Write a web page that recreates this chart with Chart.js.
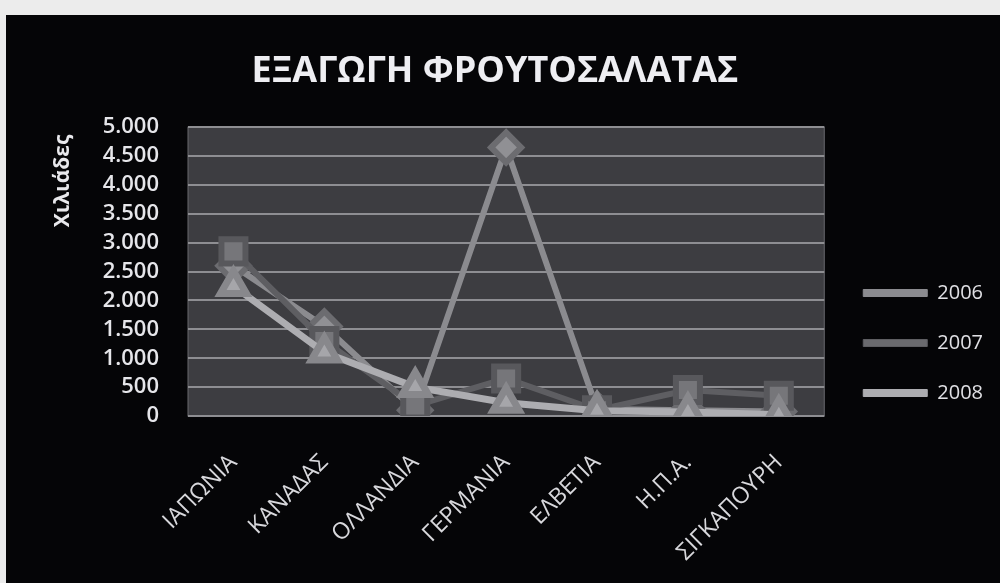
<!DOCTYPE html>
<html>
<head>
<meta charset="utf-8">
<script src="https://cdn.jsdelivr.net/npm/chart.js@4.4.1/dist/chart.umd.min.js"></script>
<style>
  html, body { margin: 0; padding: 0; background: #ececec; }
  #frame { position: absolute; left: 6px; top: 15px; width: 994px; height: 568px; background: #050507; }
</style>
</head>
<body>
<div id="frame"><canvas id="mychart" width="994" height="568"></canvas></div>
<script>
const categories = ["ΙΑΠΩΝΙΑ", "ΚΑΝΑΔΑΣ", "ΟΛΛΑΝΔΙΑ", "ΓΕΡΜΑΝΙΑ", "ΕΛΒΕΤΙΑ", "Η.Π.Α.", "ΣΙΓΚΑΠΟΥΡΗ"];
const exports2006 = [2600, 1550, 100, 4650, 120, 100, 80];
const exports2007 = [2850, 1300, 180, 650, 100, 450, 350];
const exports2008 = [2250, 1100, 500, 230, 90, 70, 20];
const yTickLabels = ["0", "500", "1.000", "1.500", "2.000", "2.500", "3.000", "3.500", "4.000", "4.500", "5.000"];

const ctx = document.getElementById("mychart").getContext("2d");

// grey plot area + y title placed near the top like the original
const plotBackground = {
  id: "plotBackground",
  beforeDraw(chart) {
    const { ctx, chartArea: a } = chart;
    ctx.save();
    ctx.fillStyle = "#3d3d41";
    ctx.fillRect(a.left, a.top, a.width, a.height);
    ctx.strokeStyle = "#6a6a6e";
    ctx.lineWidth = 1;
    ctx.strokeRect(a.left, a.top, a.width, a.height);
    ctx.restore();
  },
  afterDraw(chart) {
    const ctx = chart.ctx;
    ctx.save();
    ctx.translate(57, 166);
    ctx.rotate(-Math.PI / 2);
    ctx.fillStyle = "#e8e8ec";
    ctx.font = "bold 21px 'Open Sans'";
    ctx.textAlign = "center";
    ctx.textBaseline = "middle";
    ctx.fillText("Χιλιάδες", 0, 0);
    ctx.restore();
  },
};

const legendShift = {
  id: "legendShift",
  afterLayout(chart) {
    const l = chart.legend;
    l.top += 17;
    l.bottom += 17;
    l.left += 9;
    l.right += 9;
  },
};

const data = {
  labels: categories,
  datasets: [
    {
      label: "2006",
      data: exports2006,
      borderColor: "#8b8b8f",
      backgroundColor: "#8b8b8f",
      pointBackgroundColor: "#909094",
      pointBorderColor: "#6c6c70",
      pointStyle: "rectRot",
      pointRadius: 15,
      borderWidth: 6,
      order: 3,
    },
    {
      label: "2007",
      data: exports2007,
      borderColor: "#5e5e62",
      backgroundColor: "#6a6a6e",
      pointBackgroundColor: "#76767a",
      pointBorderColor: "#58585c",
      pointStyle: "rect",
      pointRadius: 17,
      borderWidth: 6,
      order: 2,
    },
    {
      label: "2008",
      data: exports2008,
      borderColor: "#adadb1",
      backgroundColor: "#adadb1",
      pointBackgroundColor: "#a6a6aa",
      pointBorderColor: "#88888c",
      pointStyle: "triangle",
      pointRadius: 15,
      borderWidth: 7,
      order: 1,
    },
  ],
};

const config = {
  type: "line",
  data: data,
  plugins: [plotBackground, legendShift],
  options: {
    responsive: false,
    animation: false,
    layout: { padding: { right: 16 } },
    plugins: {
      title: {
        display: true,
        text: "ΕΞΑΓΩΓΗ ΦΡΟΥΤΟΣΑΛΑΤΑΣ",
        color: "#eeeef2",
        font: { family: "'Open Sans'", size: 36, weight: "bold" },
        padding: { top: 35, bottom: 34 },
      },
      legend: {
        position: "right",
        fullSize: false,
        align: "end",
        labels: {
          color: "#e0e0e4",
          font: { family: "'Open Sans'", size: 20 },
          boxWidth: 64,
          boxHeight: 7,
          padding: 30,
          sort: (a, b) => a.datasetIndex - b.datasetIndex,
          generateLabels: (chart) =>
            Chart.defaults.plugins.legend.labels.generateLabels(chart).map((item) => {
              item.lineWidth = 1;
              return item;
            }),
        },
      },
      tooltip: { enabled: false },
    },
    scales: {
      x: {
        offset: true,
        afterFit: (scale) => { scale.height = 167; },
        grid: { display: false },
        border: { display: false },
        ticks: {
          color: "#d8d8dc",
          font: { family: "'Open Sans'", size: 23 },
          minRotation: 45,
          maxRotation: 45,
          padding: 25,
        },
      },
      y: {
        min: 0,
        max: 5000,
        afterFit: (scale) => { scale.width = 182; },
        grid: { color: "#8e8e92", lineWidth: 2, drawTicks: false },
        border: { display: false },
        ticks: {
          stepSize: 500,
          autoSkip: false,
          color: "#e6e6ea",
          font: { family: "'Open Sans'", size: 22, weight: "600" },
          padding: 29,
          callback: (value, index) => yTickLabels[index],
        },
      },
    },
  },
};

const myChart = new Chart(ctx, config);
</script>
</body>
</html>
